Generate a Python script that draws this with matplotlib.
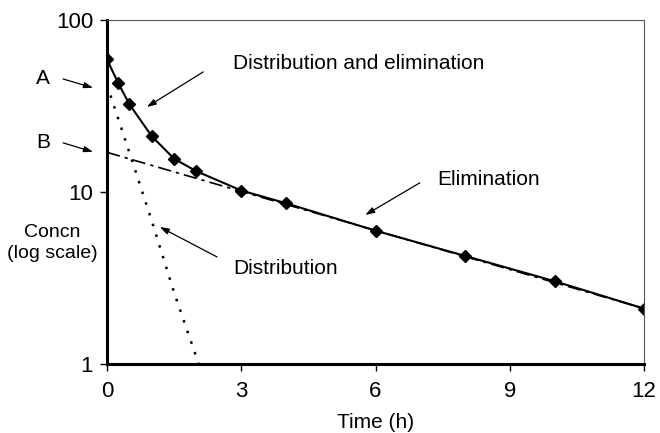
import matplotlib.pyplot as plt

plt.rcParams['font.family'] = ['Liberation Sans', 'DejaVu Sans']

time_h = [0, 0.25, 0.5, 1, 1.5, 2, 3, 4, 6, 8, 10, 12]
concn = [59, 43, 32.4, 21.1, 15.6, 13.2, 10.2, 8.6, 5.96, 4.25, 3.03, 2.1]

# back-extrapolated elimination phase (dash-dot), intercept B
elim_t = [0, 12]
elim_c = [17, 2.1]

# residual distribution phase (dotted), intercept A
dist_t = [0, 0.5, 1, 1.5, 2.05]
dist_c = [42, 17, 6.8, 2.6, 1.0]

x_ticks = [0, 3, 6, 9, 12]
y_ticks = [1, 10, 100]

fig = plt.figure(figsize=(6.6, 4.33), dpi=100)
ax = fig.add_axes([0.1621, 0.1594, 0.8137, 0.7944])

ax.plot(dist_t, dist_c, color='black', lw=1.8, linestyle=(0, (1, 3.5)))
ax.plot(elim_t, elim_c, color='black', lw=1.2, linestyle=(0, (8, 3, 2, 3)))
ax.plot(time_h, concn, color='black', lw=1.5, marker='D', markersize=6)

ax.set_yscale('log')
ax.set_xlim(0, 12)
ax.set_ylim(1, 100)
ax.set_xticks(x_ticks)
ax.set_xticklabels([str(t) for t in x_ticks])
ax.set_yticks(y_ticks)
ax.set_yticklabels([str(v) for v in y_ticks])
ax.minorticks_off()
ax.tick_params(direction='out', length=5, width=1, labelsize=16, pad=5)
ax.tick_params(axis='x', pad=7)

ax.spines['left'].set_linewidth(2.2)
ax.spines['bottom'].set_linewidth(2.2)
for s in ('top', 'right'):
    ax.spines[s].set_linewidth(0.8)
    ax.spines[s].set_color('#555555')

ax.set_xlabel('Time (h)', fontsize=15, labelpad=8)
ax.text(-0.1024, 0.352, 'Concn\n(log scale)', transform=ax.transAxes,
        ha='center', va='center', fontsize=14, linespacing=1.25)

arrow = dict(arrowstyle='-|>,head_length=0.55,head_width=0.18', color='black',
             lw=0.9, shrinkA=0, shrinkB=0)

def label(txt, pos, tail, tip, ha='left'):
    ax.text(pos[0], pos[1], txt, ha=ha, va='center', fontsize=15, clip_on=False)
    ax.annotate('', xy=tip, xytext=tail, arrowprops=arrow, annotation_clip=False)

label('A', (-1.43, 45.4), (-0.98, 45.4), (-0.31, 40.3), ha='center')
label('B', (-1.43, 19.3), (-0.98, 19.3), (-0.31, 17.1), ha='center')
label('Distribution and elimination', (2.82, 55.5), (2.15, 49.9), (0.89, 31.2))
label('Elimination', (7.37, 11.75), (6.99, 11.3), (5.77, 7.35))
label('Distribution', (2.82, 3.61), (2.46, 4.19), (1.18, 6.26))

fig.savefig('out.png', dpi=100)
